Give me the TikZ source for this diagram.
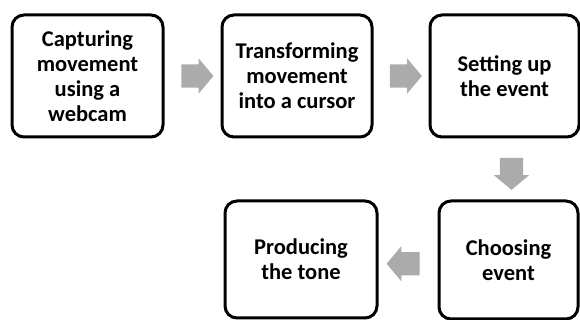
\documentclass[tikz,border=0pt]{standalone}
\usepackage{fontspec}
\setmainfont{Carlito}
\usetikzlibrary{shapes.arrows,calc}
\definecolor{flowgray}{HTML}{ABABAB}
\tikzset{
  stage/.style={
    shape = rectangle,
    draw,
    line width = 3pt,
    rounded corners = 12pt,
    align = center,
    inner sep = 0pt,
    font = \bfseries\fontsize{22.5}{25}\selectfont
  },
  flow/.style={
    shape = single arrow,
    fill = flowgray,
    inner xsep = 0pt,
    inner ysep = 11.5pt,
    minimum height = 32pt,
    single arrow head extend = 6pt,
    single arrow tip angle = 100
  },
}

\begin{document}
\begin{tikzpicture}[x=1pt,y=1pt]
  \useasboundingbox (0,0) rectangle (580,320);
  % top row
  \node[stage,minimum width=151pt,minimum height=122pt] (capture) at (87.5,244) {Capturing\\movement\\using a\\webcam};
  \node[stage,minimum width=150pt,minimum height=122pt] (cursor) at (297,244) {Transforming\\movement\\into a cursor};
  \node[stage,minimum width=149pt,minimum height=122pt] (setup) at (504.5,244) {Setting up\\the event};
  % bottom row
  \node[stage,minimum width=139pt,minimum height=118pt] (choose) at (508.5,60) {Choosing\\event};
  \node[stage,minimum width=152pt,minimum height=117pt] (tone) at (301,60.5) {Producing\\the tone};
  % block arrows
  \node[flow] (f1) at ($(capture.east)!0.5!(cursor.west)$) {};
  \node[flow] (f2) at ($(cursor.east)!0.5!(setup.west)$) {};
  \node[flow,rotate=-90] (f3) at ($(setup.south)!0.5!(choose.north)+(5,0)$) {};
  \node[flow,rotate=180,minimum height=33pt] (f4) at ($(choose.west)!0.5!(tone.east)+(0,-4)$) {};
\end{tikzpicture}
\end{document}
